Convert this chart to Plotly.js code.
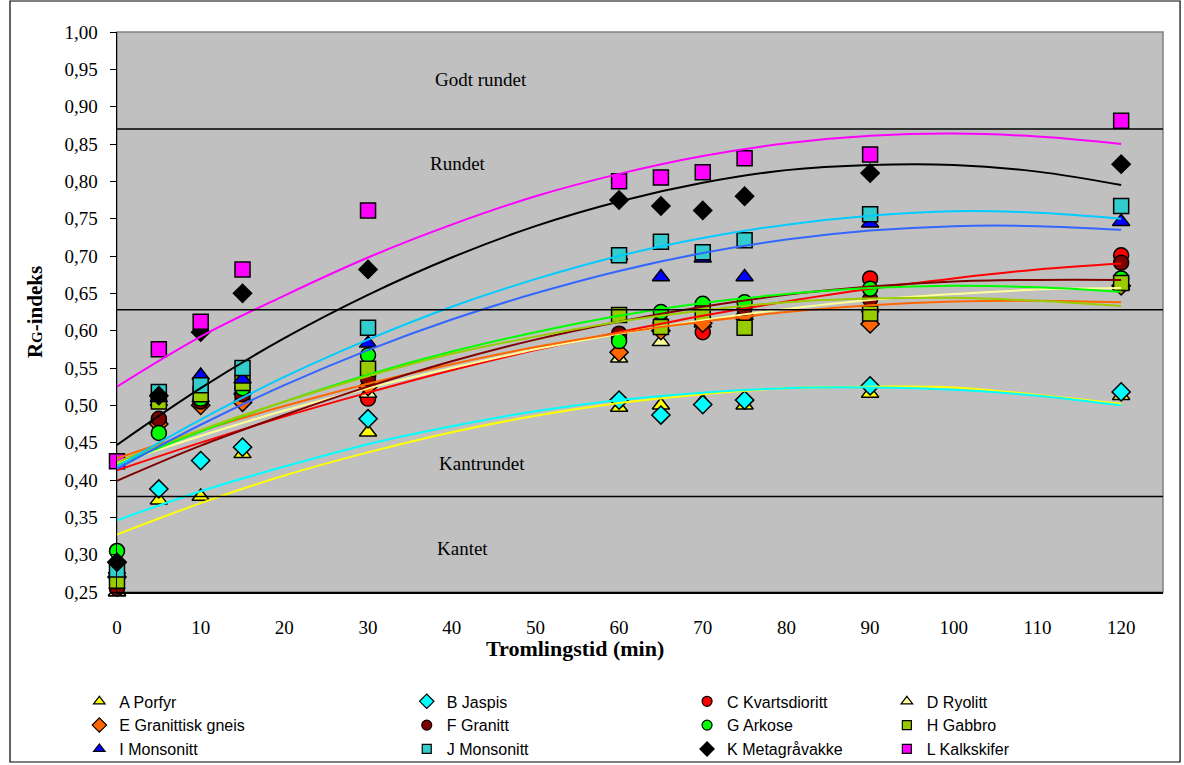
<!DOCTYPE html>
<html>
<head>
<meta charset="utf-8">
<script src="https://cdn.plot.ly/plotly-3.0.1.min.js"></script>
<style>html,body{margin:0;padding:0;background:#fff;}#chart{width:1184px;height:765px;}</style>
</head>
<body>
<div id="chart"></div>
<script>
// Sampling times (min)
const times = [0, 5, 10, 15, 30, 60, 65, 70, 75, 90, 120];
// Measured Rg-index per rock type
const seriesNames = ["A Porfyr","B Jaspis","C Kvartsdioritt","D Ryolitt","E Granittisk gneis","F Granitt","G Arkose","H Gabbro","I Monsonitt","J Monsonitt","K Metagråvakke","L Kalkskifer"];
const valsA = [0.250, 0.373, 0.378, 0.435, 0.464, 0.497, 0.500, 0.505, 0.500, 0.516, 0.513];
const valsB = [0.270, 0.388, 0.426, 0.444, 0.482, 0.507, 0.487, 0.501, 0.507, 0.526, 0.518];
const valsC = [0.255, 0.478, 0.505, 0.510, 0.509, 0.590, 0.610, 0.598, 0.620, 0.670, 0.701];
const valsD = [0.250, 0.505, 0.510, 0.520, 0.516, 0.563, 0.585, 0.610, 0.620, 0.630, 0.660];
const valsE = [0.290, 0.475, 0.500, 0.504, 0.525, 0.571, 0.600, 0.610, 0.620, 0.609, 0.660];
const valsF = [0.255, 0.482, 0.505, 0.515, 0.536, 0.596, 0.610, 0.625, 0.630, 0.642, 0.691];
const valsG = [0.305, 0.463, 0.509, 0.523, 0.567, 0.586, 0.625, 0.636, 0.638, 0.656, 0.670];
const valsH = [0.265, 0.505, 0.515, 0.530, 0.549, 0.621, 0.605, 0.623, 0.604, 0.623, 0.664];
const valsI = [0.280, 0.510, 0.540, 0.535, 0.583, 0.700, 0.672, 0.697, 0.672, 0.744, 0.746];
const valsJ = [0.280, 0.518, 0.527, 0.550, 0.604, 0.701, 0.719, 0.705, 0.721, 0.756, 0.767];
const valsK = [0.290, 0.513, 0.598, 0.650, 0.682, 0.775, 0.767, 0.761, 0.780, 0.811, 0.823];
const valsL = [0.425, 0.575, 0.612, 0.682, 0.761, 0.800, 0.805, 0.812, 0.831, 0.836, 0.881];

// Trend lines, every 10 min
const trendTimes = [0, 10, 20, 30, 40, 50, 60, 70, 80, 90, 100, 110, 120];
const trendA = [0.327, 0.369, 0.406, 0.437, 0.464, 0.486, 0.503, 0.515, 0.523, 0.525, 0.524, 0.514, 0.502];
const trendB = [0.346, 0.385, 0.418, 0.448, 0.472, 0.492, 0.507, 0.517, 0.523, 0.524, 0.521, 0.513, 0.500];
const trendC = [0.413, 0.450, 0.485, 0.517, 0.547, 0.574, 0.598, 0.620, 0.639, 0.656, 0.670, 0.682, 0.690];
const trendD = [0.422, 0.459, 0.493, 0.523, 0.550, 0.575, 0.596, 0.614, 0.629, 0.641, 0.649, 0.655, 0.657];
const trendE = [0.429, 0.466, 0.499, 0.529, 0.555, 0.578, 0.597, 0.612, 0.625, 0.634, 0.639, 0.640, 0.638];
const trendF = [0.399, 0.446, 0.487, 0.525, 0.559, 0.588, 0.612, 0.632, 0.648, 0.659, 0.666, 0.668, 0.668];
const trendG = [0.420, 0.465, 0.505, 0.541, 0.572, 0.598, 0.620, 0.637, 0.649, 0.657, 0.660, 0.658, 0.652];
const trendH = [0.424, 0.467, 0.505, 0.539, 0.569, 0.592, 0.612, 0.627, 0.638, 0.643, 0.644, 0.640, 0.633];
const trendI = [0.415, 0.474, 0.527, 0.574, 0.615, 0.650, 0.680, 0.704, 0.722, 0.734, 0.740, 0.740, 0.735];
const trendJ = [0.418, 0.481, 0.538, 0.588, 0.632, 0.669, 0.700, 0.724, 0.742, 0.754, 0.760, 0.758, 0.750];
const trendK = [0.447, 0.523, 0.590, 0.648, 0.698, 0.740, 0.773, 0.798, 0.815, 0.822, 0.822, 0.813, 0.795];
const trendL = [0.525, 0.592, 0.647, 0.698, 0.742, 0.780, 0.810, 0.834, 0.851, 0.861, 0.864, 0.860, 0.850];

// Class boundaries and zone labels
const boundaries = [0.87, 0.628, 0.378];
const zoneLabels = ["Godt rundet", "Rundet", "Kantrundet", "Kantet"];
const zoneY = [0.936, 0.824, 0.422, 0.308];
const zoneX = [43.5, 40.7, 43.6, 41.3];
const xTickVals = [0, 10, 20, 30, 40, 50, 60, 70, 80, 90, 100, 110, 120];

const values = [valsA,valsB,valsC,valsD,valsE,valsF,valsG,valsH,valsI,valsJ,valsK,valsL];
const trends = [trendA,trendB,trendC,trendD,trendE,trendF,trendG,trendH,trendI,trendJ,trendK,trendL];
const markerColors = ["#FFFF00","#00FFFF","#FF0000","#FFFF99","#FF6600","#800000","#00FF00","#99CC00","#0000FF","#33CCCC","#000000","#FF00FF"];
const lineColors   = ["#FFFF00","#00FFFF","#FF0000","#FFFF99","#FF6600","#800000","#00FF00","#99CC00","#3366FF","#00CCFF","#000000","#FF00FF"];
const symbols = ["triangle-up","diamond","circle","triangle-up","diamond","circle","circle","square","triangle-up","square","diamond","square"];
const sizes = {"triangle-up":15,"diamond":14,"circle":15,"square":15};
const legendSizes = {"triangle-up":10,"diamond":11,"circle":10,"square":9};
const legendIds = ["legend","legend2","legend3","legend4"];
const serif = "Liberation Serif, Times New Roman, serif";

const traces = [];
for (let i = 0; i < values.length; i++) {
  traces.push({
    type: "scatter", mode: "markers", x: times, y: values[i], name: seriesNames[i],
    showlegend: false, cliponaxis: false,
    marker: {symbol: symbols[i], color: markerColors[i], size: sizes[symbols[i]], line: {color: "#000", width: 1.5}}
  });
}
for (let i = 0; i < trends.length; i++) {
  traces.push({
    type: "scatter", mode: "lines", x: trendTimes, y: trends[i], showlegend: false,
    line: {color: lineColors[i], width: 2, shape: "spline"}, hoverinfo: "skip"
  });
}
// legend entries (smaller symbols as in the reference legend)
for (let i = 0; i < values.length; i++) {
  traces.push({
    type: "scatter", mode: "markers", x: [null], y: [null], name: seriesNames[i],
    legend: legendIds[i % 4], legendrank: Math.floor(i / 4) + 1, showlegend: true,
    marker: {symbol: symbols[i], color: markerColors[i], size: legendSizes[symbols[i]], line: {color: "#000", width: 1.2}}
  });
}

const shapes = boundaries.map(v => ({type: "line", xref: "paper", x0: 0, x1: 1, yref: "y", y0: v, y1: v, line: {color: "#000", width: 1.5}}));
shapes.push({type: "rect", xref: "paper", yref: "paper", x0: 0, x1: 1, y0: 0, y1: 1, line: {color: "#808080", width: 1.5}, layer: "below"});
shapes.push({type: "rect", xref: "paper", yref: "paper", x0: -0.1023, x1: 1.0163, y0: -0.3036, y1: 1.0554, line: {color: "#000", width: 1.2}});

const annotations = zoneLabels.map((t, i) => ({
  text: t, x: zoneX[i], y: zoneY[i], xref: "x", yref: "y", showarrow: false,
  font: {family: serif, size: 19, color: "#000"}
}));
annotations.push({
  text: "<b>Tromlingstid (min)</b>", xref: "paper", yref: "paper", x: 0.438, y: -0.1,
  xanchor: "center", yanchor: "middle", showarrow: false, font: {family: serif, size: 22, color: "#000"}
});

const legendFont = {family: "Liberation Sans, Arial, sans-serif", size: 16, color: "#000"};
const legendXs = [-0.036, 0.277, 0.545, 0.736];
const legends = {};
legendIds.forEach((id, k) => {
  legends[id] = {x: legendXs[k], y: -0.165, xanchor: "left", yanchor: "top", orientation: "v",
    font: legendFont, bgcolor: "rgba(0,0,0,0)", itemsizing: "trace", tracegroupgap: 0};
});

const layout = Object.assign({
  width: 1184, height: 765,
  margin: {l: 117, r: 21, t: 32, b: 173, autoexpand: false},
  paper_bgcolor: "#fff", plot_bgcolor: "#C0C0C0",
  separators: ", ",
  font: {family: serif, size: 19, color: "#000"},
  xaxis: {
    range: [0, 125], tickmode: "array", tickvals: xTickVals,
    showgrid: false, zeroline: false, showline: true, linecolor: "#000", linewidth: 1.5,
    ticks: "", ticklabelstandoff: 18, tickfont: {family: serif, size: 19}
  },
  yaxis: {
    range: [0.25, 1.0], dtick: 0.05, tick0: 0.25, tickformat: ".2f",
    showgrid: false, zeroline: false, showline: true, linecolor: "#000", linewidth: 1.5,
    ticks: "outside", ticklen: 6, tickcolor: "#000", tickwidth: 1, ticklabelstandoff: 8,
    tickfont: {family: serif, size: 19},
    title: {text: "<b>R<span style='font-size:15px'>G</span>-indeks</b>", font: {family: serif, size: 21}, standoff: 16}
  },
  shapes: shapes,
  annotations: annotations,
  showlegend: true
}, legends);

Plotly.newPlot("chart", traces, layout, {displayModeBar: false, staticPlot: true});
</script>
</body>
</html>
